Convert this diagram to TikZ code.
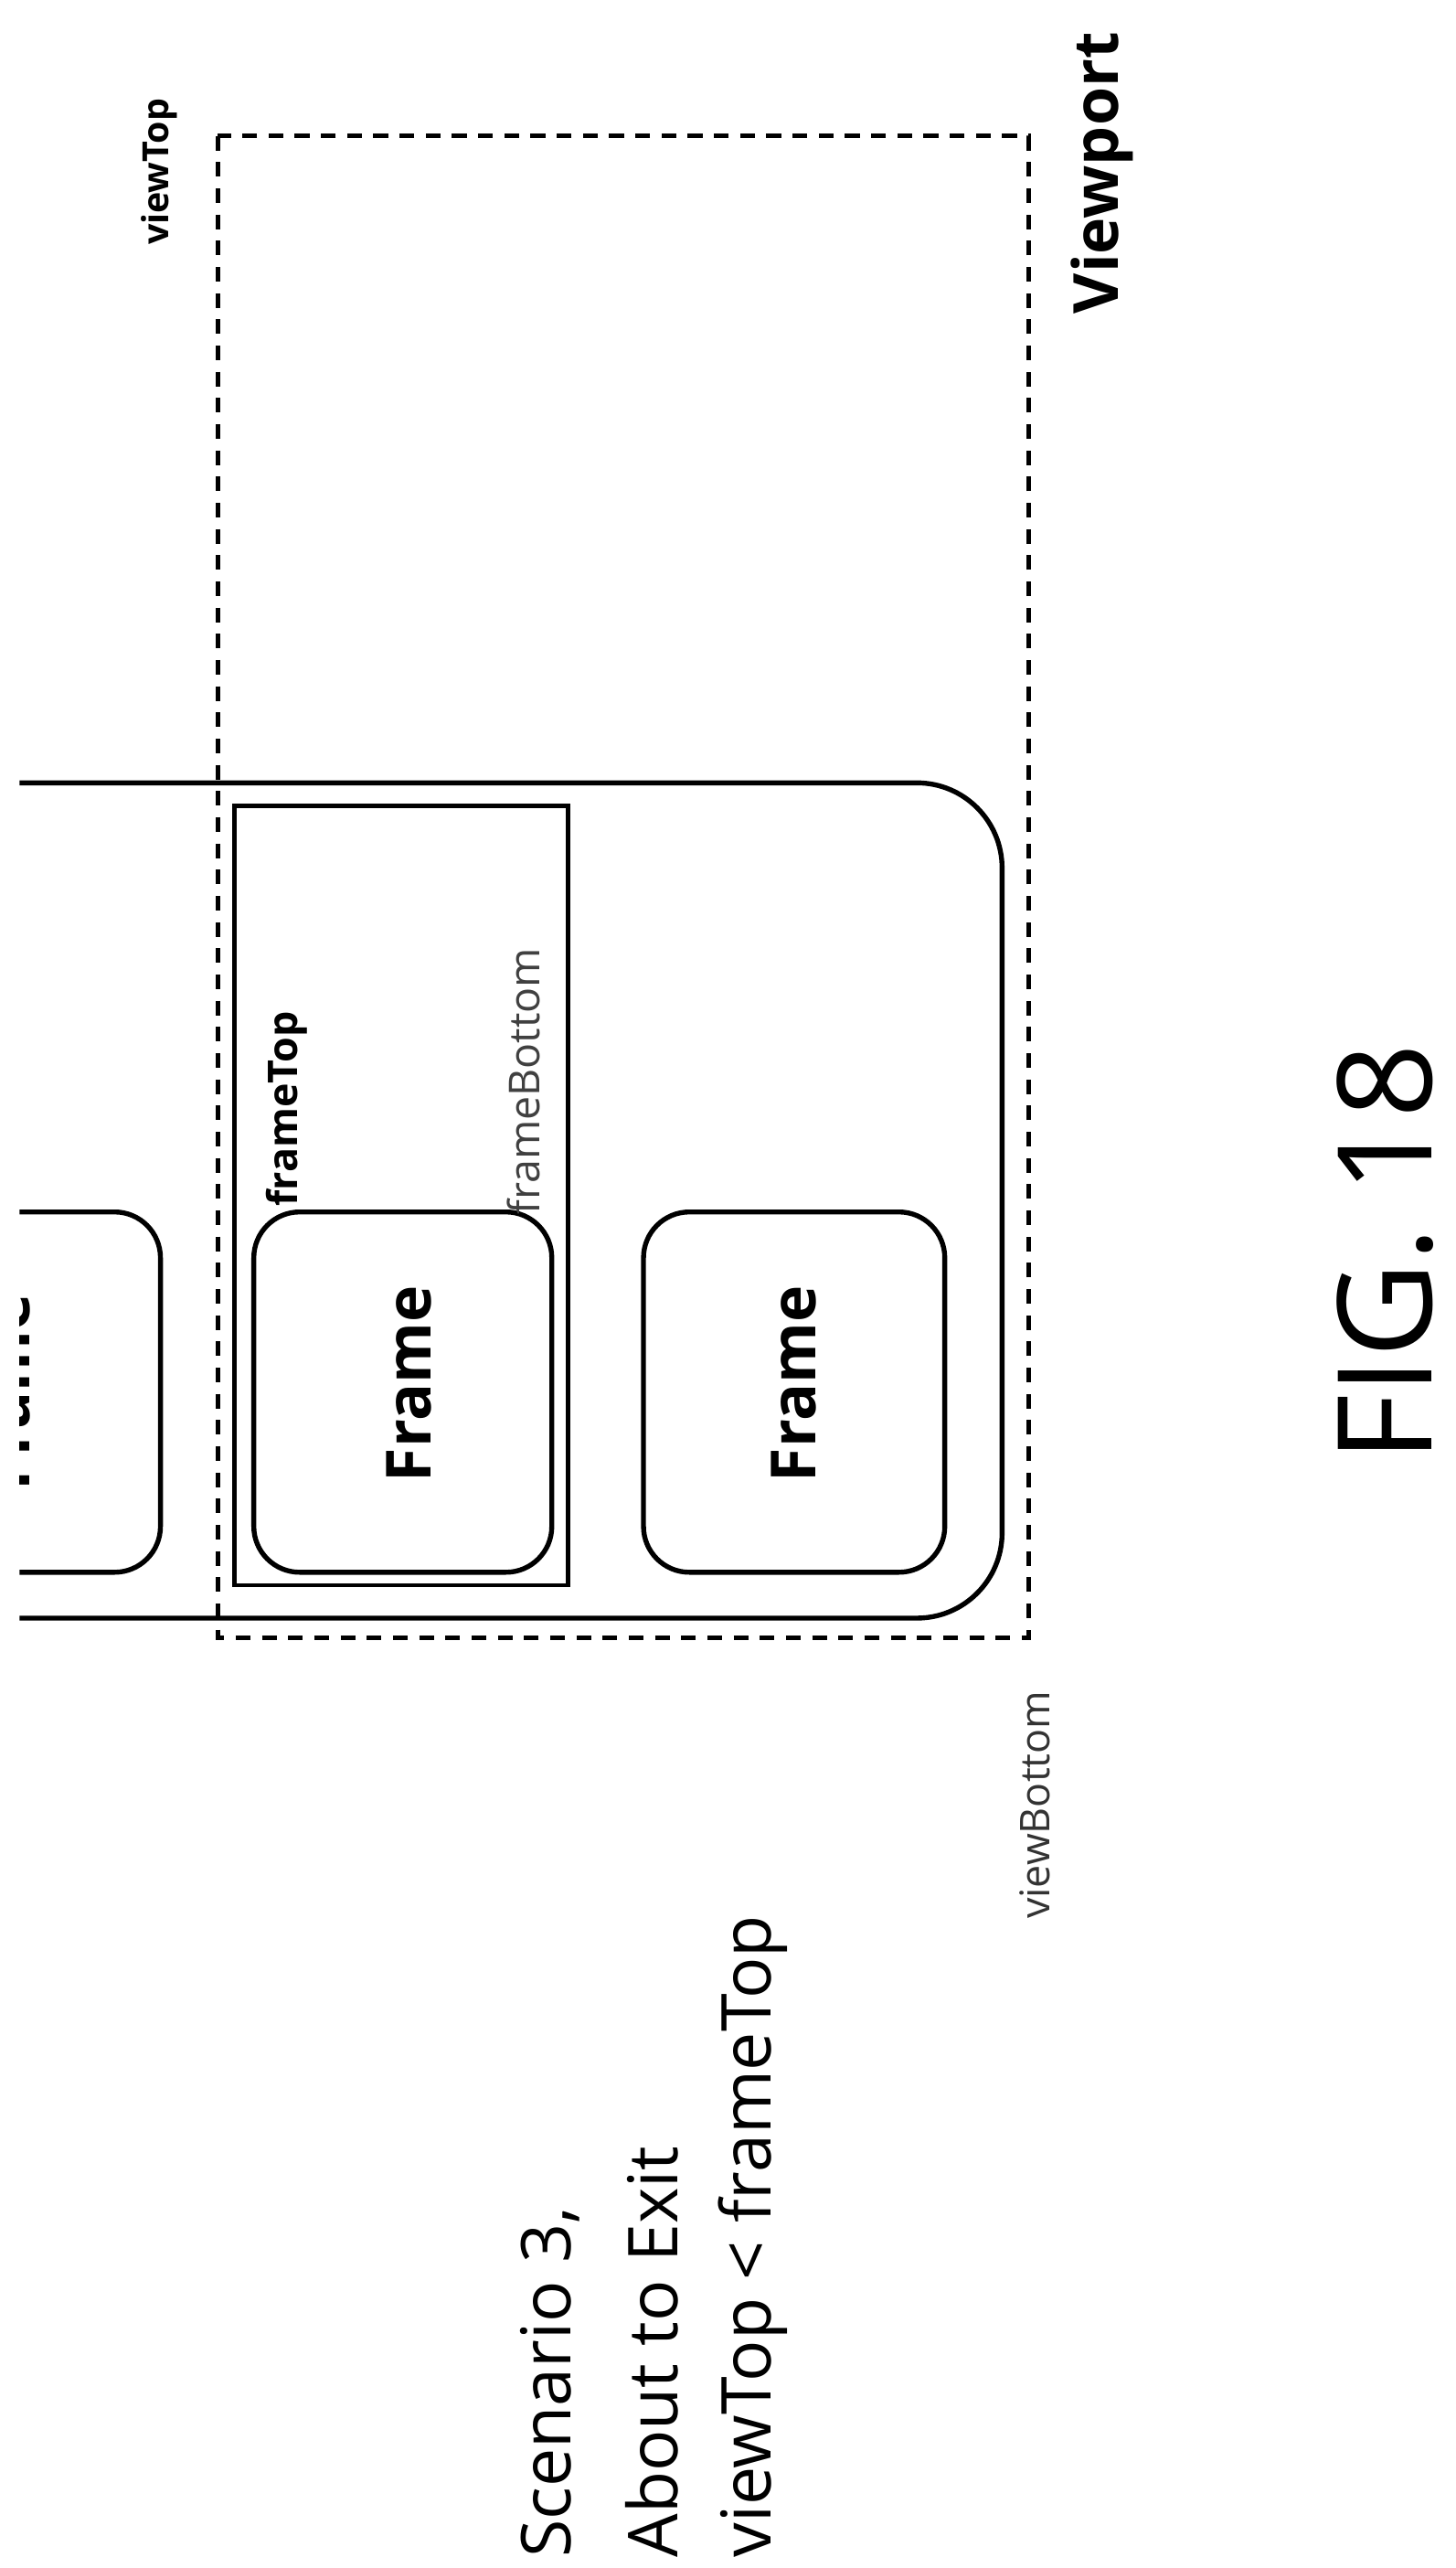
\documentclass[tikz,border=0pt]{standalone}
\usepackage{fontspec}
\setmainfont{Open Sans}
\begin{document}
\begin{tikzpicture}[x=0.5pt,y=-0.5pt,
  solid line/.style={line width=1.5pt},
  frame box/.style={line width=1.5pt, rounded corners=14pt},
  lbl/.style={inner sep=0pt, rotate=90},
  frametxt/.style={lbl, font=\fontsize{19}{21}\selectfont\bfseries}]
\useasboundingbox (0,0) rectangle (889,1568);
% viewport
\draw[line width=1.4pt, dash pattern=on 4.5pt off 3.5pt] (133,83) rectangle (628,1000);
% outer container (open on left)
\draw[solid line, rounded corners=26pt] (12,478) -- (612,478) -- (612,988) -- (12,988);
% highlight rectangle
\draw[line width=1.3pt] (143,492) rectangle (347,968);
% frames
\begin{scope}
\clip (12,700) rectangle (120,1000);
\draw[frame box] (-90,740) rectangle (98,960);
\node[frametxt] (f0) at (5,850) {Frame};
\end{scope}
\draw[frame box] (155,740) rectangle (337,960);
\draw[frame box] (393,740) rectangle (577,960);
\node[frametxt] (f1) at (250,845) {Frame};
\node[frametxt] (f2) at (485,845) {Frame};
% labels
\node[lbl, anchor=west, font=\fontsize{11}{13}\selectfont\bfseries] (vt) at (97,150) {viewTop};
\node[lbl, anchor=west, font=\fontsize{19}{21}\selectfont\bfseries] (vp) at (673,192) {Viewport};
\node[lbl, anchor=west, font=\fontsize{12.5}{14}\selectfont\bfseries] (ft) at (175,737) {frameTop};
\node[lbl, anchor=west, font=\fontsize{13}{15}\selectfont, text=black!75] (fb) at (320,742) {frameBottom};
\node[lbl, anchor=west, font=\fontsize{12.5}{15}\selectfont, text=black!80] (vb) at (632,1172) {viewBottom};
\node[lbl, anchor=west, font=\fontsize{21}{24}\selectfont] (s1) at (336,1562) {Scenario 3,};
\node[lbl, anchor=west, font=\fontsize{21}{24}\selectfont] (s2) at (398,1562) {About to Exit};
\node[lbl, anchor=west, font=\fontsize{21}{24}\selectfont] (s3) at (460,1562) {viewTop < frameTop};
\node[lbl, anchor=center, font=\fontsize{40}{44}\selectfont] (fig) at (846,765) {FIG. 18};
\end{tikzpicture}
\end{document}
